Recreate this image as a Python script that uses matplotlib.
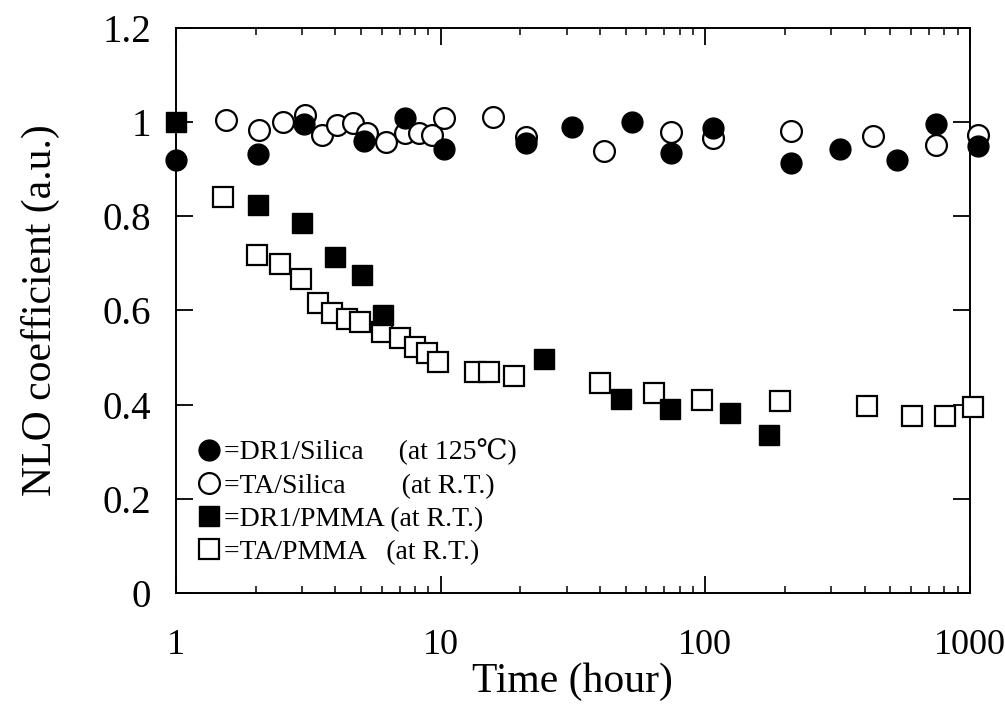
import numpy as np
import matplotlib
matplotlib.use("Agg")
import matplotlib.pyplot as plt
from matplotlib.ticker import FixedLocator, NullFormatter

plt.rcParams['font.family'] = ['Liberation Serif', 'DejaVu Serif']

# DR1/Silica (at 125 C) - filled circles
dr1_si_t = [1.0, 2.04, 3.05, 5.13, 7.35, 10.3, 21.1, 31.4, 53.1, 74.2, 107, 211, 322, 531, 748, 1073]
dr1_si_v = [0.919, 0.932, 0.996, 0.960, 1.008, 0.943, 0.955, 0.989, 1.000, 0.934, 0.987, 0.913, 0.943, 0.919, 0.996, 0.949]

# TA/Silica (at R.T.) - open circles
ta_si_t = [1.54, 2.06, 2.54, 3.08, 3.58, 4.08, 4.66, 5.27, 6.22, 7.35, 8.32, 9.32, 10.3,
           15.8, 21.1, 41.5, 74.2, 107, 211, 430, 748, 1073]
ta_si_v = [1.004, 0.983, 1.000, 1.015, 0.972, 0.994, 0.998, 0.977, 0.958, 0.977, 0.977, 0.972, 1.008,
           1.011, 0.968, 0.938, 0.979, 0.966, 0.981, 0.970, 0.951, 0.972]

# DR1/PMMA (at R.T.) - filled squares
dr1_pm_t = [1.0, 2.04, 3.0, 4.01, 5.04, 6.06, 24.5, 48.2, 73.5, 123.6, 174]
dr1_pm_v = [1.000, 0.824, 0.786, 0.713, 0.675, 0.590, 0.497, 0.412, 0.391, 0.382, 0.335]

# TA/PMMA (at R.T.) - open squares
ta_pm_t = [1.51, 2.02, 2.47, 2.97, 3.45, 3.9, 4.45, 4.95, 6.0, 7.04, 8.03, 8.92, 9.82,
           13.5, 15.3, 19.0, 40.1, 63.9, 97.4, 191.6, 408, 606, 809, 1026]
ta_pm_v = [0.841, 0.718, 0.698, 0.667, 0.616, 0.594, 0.582, 0.575, 0.554, 0.541, 0.522, 0.510, 0.490,
           0.469, 0.469, 0.461, 0.446, 0.425, 0.410, 0.408, 0.397, 0.376, 0.376, 0.395]

labels = ['=DR1/Silica     (at 125\u2103)',
          '=TA/Silica        (at R.T.)',
          '=DR1/PMMA (at R.T.)',
          '=TA/PMMA   (at R.T.)']

fig = plt.figure(figsize=(10.05, 7.12), dpi=100)
ax = fig.add_axes([0.175, 0.167, 0.79, 0.794])

ms = 15
h1, = ax.plot(ta_pm_t, ta_pm_v, 's', ms=ms, mfc='white', mec='black', mew=1.6, clip_on=False, zorder=3)
h2, = ax.plot(dr1_pm_t, dr1_pm_v, 's', ms=ms, mfc='black', mec='black', clip_on=False, zorder=4)
h3, = ax.plot(ta_si_t, ta_si_v, 'o', ms=ms, mfc='white', mec='black', mew=1.6, clip_on=False, zorder=3)
h4, = ax.plot(dr1_si_t, dr1_si_v, 'o', ms=ms, mfc='black', mec='black', clip_on=False, zorder=4)

ax.set_xscale('log')
ax.set_xlim(1, 1000)
ax.set_ylim(0, 1.2)
ax.set_yticks([0, 0.2, 0.4, 0.6, 0.8, 1.0, 1.2])
ax.set_yticklabels(['0', '0.2', '0.4', '0.6', '0.8', '1', '1.2'])
ax.set_xticks([1, 10, 100, 1000])
ax.set_xticklabels(['1', '10', '100', '1000'])
ax.xaxis.set_minor_locator(FixedLocator([m * 10**d for d in range(3) for m in range(2, 10)]))
ax.xaxis.set_minor_formatter(NullFormatter())

ax.tick_params(which='major', direction='in', length=12, width=1.3, top=True, right=True)
ax.tick_params(which='minor', direction='in', length=5, width=1.1, top=True, right=True)
ax.tick_params(axis='y', labelsize=28, pad=18)
ax.tick_params(axis='x', labelsize=26, pad=26)
for s in ax.spines.values():
    s.set_linewidth(1.4)

ax.set_xlabel('Time (hour)', fontsize=30, labelpad=0)
ax.set_ylabel('NLO coefficient (a.u.)', fontsize=30, labelpad=30)

ax.legend([h4, h3, h2, h1], labels, loc='lower left', frameon=False, fontsize=20,
          handletextpad=0.05, handlelength=1.0, labelspacing=0.28, borderaxespad=0.3,
          bbox_to_anchor=(0.0, 0.015))

fig.savefig('out.png', dpi=100)
